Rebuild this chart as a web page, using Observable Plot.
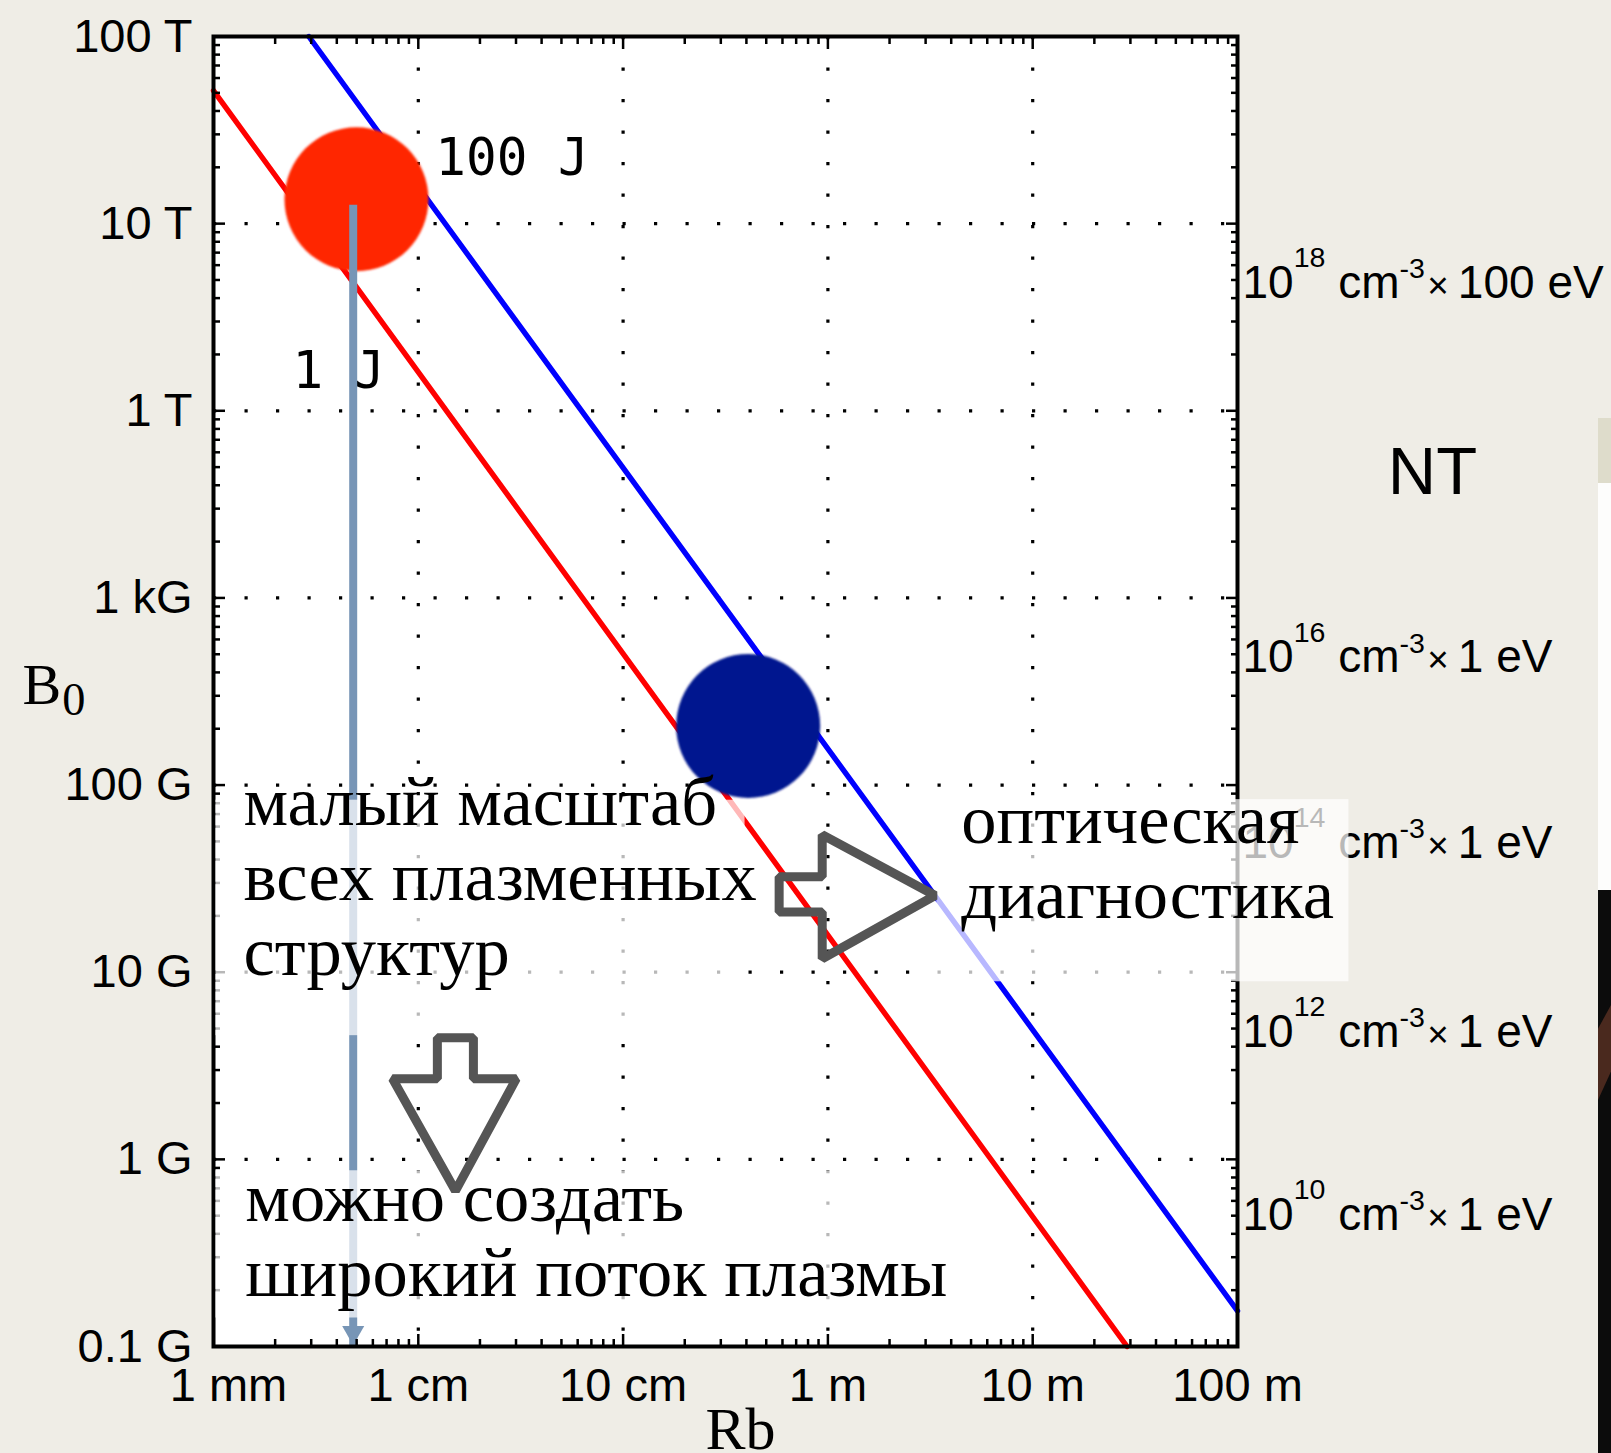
<!DOCTYPE html>
<html><head><meta charset="utf-8">
<script src="https://cdn.jsdelivr.net/npm/d3@7"></script>
<script src="https://cdn.jsdelivr.net/npm/@observablehq/plot@0.6"></script>
<style>
html,body{margin:0;padding:0;background:#efede6;width:1611px;height:1453px;overflow:hidden;position:relative}
#chart{position:absolute;left:0;top:0}
#chart svg text{white-space:pre}
.edge{position:absolute;left:1598px;width:13px}
</style></head><body>
<div id="chart"></div>
<div class="edge" style="top:418px;height:65px;background:#dedccb"></div>
<div class="edge" style="top:483px;height:407px;background:#fdfdfc"></div>
<div class="edge" style="top:890px;height:563px;background:#0c0c0c"></div>
<div class="edge" style="top:1005px;height:95px;background:#4a291e;clip-path:polygon(0 25%,100% 0,100% 70%,0 100%)"></div>
<script>
// ---- data ----
const xTicks = [1e-3, 1e-2, 1e-1, 1, 10, 100];
const xTickLabels = ["1 mm", "1 cm", "10 cm", "1 m", "10 m", "100 m"];
const yTicks = [1e-5, 1e-4, 1e-3, 1e-2, 1e-1, 1, 10, 100];
const yTickLabels = ["0.1 G", "1 G", "10 G", "100 G", "1 kG", "1 T", "10 T", "100 T"];

// iso-energy lines (R in m, B in T)
const oneJoule_R = [1e-3, 28.9];
const oneJoule_B = [51.4, 1e-5];
const hundredJoule_R = [2.92e-3, 100];
const hundredJoule_B = [100, 1.55e-5];

// highlighted spots
const spotLaser_R = [4.99e-3];
const spotLaser_B = [13.5];
const spotLab_R = [0.408];
const spotLab_B = [0.0207];

// scan arrow
const scan_R = [4.81e-3, 4.81e-3];
const scan_B = [12.6, 1e-5];

// energy labels
const energyText = ["100 J", "1 J"];
const energy_R = [0.0121, 2.43e-3];
const energy_B = [18.3, 1.32];

// plasma pressure labels (right side)
const plasmaText = ["10^{18} cm^{-3}×100 eV", "10^{16} cm^{-3}×1 eV", "10^{14} cm^{-3}×1 eV", "10^{12} cm^{-3}×1 eV", "10^{10} cm^{-3}×1 eV"];
const plasma_B = [4.0, 0.04, 0.0041, 4.0e-4, 4.2e-5];
const ntText = ["NT"];
const nt_B = [0.36];

// captions
const captionText = ["малый масштаб\nвсех плазменных\nструктур", "можно создать\nширокий поток плазмы", "оптическая\nдиагностика"];
const caption_R = [1.40e-3, 1.43e-3, 4.48];
const caption_B = [9.71e-4, 1.87e-5, 1.95e-3];

// caption backgrounds
const box_R1 = [1.028e-3, 1.028e-3, 3.4];
const box_R2 = [0.394, 5.24, 350];
const box_B1 = [8.3e-3, 8.69e-5, 8.36e-3];
const box_B2 = [4.58e-4, 1.42e-5, 8.89e-4];

// hollow arrows
const rightArrow_R = [0.578, 0.938, 0.938, 3.34, 0.938, 0.938, 0.578];
const rightArrow_B = [3.24e-3, 3.24e-3, 5.43e-3, 2.57e-3, 1.18e-3, 2.10e-3, 2.10e-3];
const downArrow_R = [0.01239, 0.01858, 0.01858, 0.0301, 0.01518, 0.00748, 0.01239];
const downArrow_B = [4.47e-4, 4.47e-4, 2.70e-4, 2.70e-4, 6.79e-5, 2.70e-4, 2.70e-4];

// ---- helpers ----
const pts = (Rs, Bs, extra = {}) => Rs.map((R, i) => ({R, B: Bs[i], ...extra}));
const minorOf = (ticks) => ticks.slice(0, -1).flatMap(t => d3.range(2, 10).map(j => j * t));
const xMinor = minorOf(xTicks);
const yMinor = minorOf(yTicks);
const lab = (ticks, labels) => d => labels[ticks.findIndex(t => Math.abs(Math.log10(t) - Math.log10(d)) < 1e-6)];

const boxes = box_R1.map((_, i) => ({R1: box_R1[i], R2: box_R2[i], B1: box_B1[i], B2: box_B2[i]}));
const arrows = [...pts(rightArrow_R, rightArrow_B, {id: "right"}), ...pts(downArrow_R, downArrow_B, {id: "down"})];

const tk = {fill: "none", stroke: "black", strokeWidth: 2.5};
const grid = {stroke: "black", strokeOpacity: 1, strokeWidth: 3.2, strokeDasharray: "3.2 28.3"};
const serif = "'Liberation Serif', 'Times New Roman', serif";

const plot = Plot.plot({
  width: 1611, height: 1453,
  marginLeft: 213, marginRight: 374, marginTop: 36, marginBottom: 107,
  x: {type: "log", domain: [1e-3, 100], label: null},
  y: {type: "log", domain: [1e-5, 100], label: null},
  style: {background: "transparent", fontFamily: "'Liberation Sans', Arial, sans-serif", fontSize: "47px", color: "black", overflow: "visible"},
  marks: [
    Plot.frame({fill: "white", stroke: "none"}),
    Plot.gridX(xTicks.slice(1, -1), grid),
    Plot.gridY(yTicks.slice(1, -1), grid),
    Plot.line(pts(oneJoule_R, oneJoule_B), {x: "R", y: "B", stroke: "#ff0000", strokeWidth: 5.4}),
    Plot.line(pts(hundredJoule_R, hundredJoule_B), {x: "R", y: "B", stroke: "#0000ff", strokeWidth: 5.4}),
    Plot.dot(pts(spotLaser_R, spotLaser_B), {x: "R", y: "B", r: 72, fill: "#ff2800"}),
    Plot.dot(pts(spotLab_R, spotLab_B), {x: "R", y: "B", r: 72, fill: "#00198f"}),
    Plot.text(energyText, {x: (d, i) => energy_R[i], y: (d, i) => energy_B[i], text: d => d, textAnchor: "start", lineAnchor: "bottom", fontFamily: "'DejaVu Sans Mono', monospace", fontSize: 51, fill: "black"}),
    Plot.link([0], {x1: () => scan_R[0], y1: () => scan_B[0], x2: () => scan_R[1], y2: () => scan_B[1], stroke: "#7795b6", strokeWidth: 8}),
    Plot.dot([0], {x: () => scan_R[1], y: () => scan_B[1], symbol: "triangle", rotate: 180, r: 8.2, fill: "#7795b6", dy: -14}),
    // ticks
    Plot.axisX(xTicks, {anchor: "bottom", tickSize: -12, ...tk}),
    Plot.axisX(xTicks, {anchor: "top", tickSize: -12, ...tk}),
    Plot.axisX(xMinor, {anchor: "bottom", tickSize: -7, ...tk}),
    Plot.axisX(xMinor, {anchor: "top", tickSize: -7, ...tk}),
    Plot.axisY(yTicks, {anchor: "left", tickSize: -12, ...tk}),
    Plot.axisY(yTicks, {anchor: "right", tickSize: -12, ...tk}),
    Plot.axisY(yMinor, {anchor: "left", tickSize: -7, ...tk}),
    Plot.axisY(yMinor, {anchor: "right", tickSize: -7, ...tk}),
    Plot.axisX(xTicks.slice(1), {anchor: "bottom", tickSize: 0, tickPadding: 21, tickFormat: lab(xTicks, xTickLabels), fill: "black"}),
    Plot.axisX(xTicks.slice(0, 1), {anchor: "bottom", tickSize: 0, tickPadding: 21, dx: 15, tickFormat: lab(xTicks, xTickLabels), fill: "black"}),
    Plot.axisY(yTicks, {anchor: "left", tickSize: 0, tickPadding: 21, tickFormat: lab(yTicks, yTickLabels), fill: "black"}),
    Plot.frame({stroke: "black", strokeWidth: 4}),
    // right side labels
    Plot.text(plasmaText, {x: () => 100, y: (d, i) => plasma_B[i], text: d => d, dx: 5, textAnchor: "start", lineAnchor: "bottom", fontSize: 46, fill: "black"}),
    Plot.text(ntText, {x: () => 100, y: (d, i) => nt_B[i], text: d => d, dx: 195, textAnchor: "middle", lineAnchor: "bottom", fontSize: 67, fill: "black"}),
    // axis titles
    Plot.text(["B_{0}"], {frameAnchor: "left", text: d => d, dx: -191, dy: 12, textAnchor: "start", lineAnchor: "bottom", fontFamily: serif, fontSize: 58, fill: "black"}),
    Plot.text(["Rb"], {frameAnchor: "bottom", text: d => d, dx: 15, dy: 102, textAnchor: "middle", lineAnchor: "bottom", fontFamily: serif, fontSize: 60, fill: "black"}),
    // caption backgrounds
    Plot.rect(boxes, {x1: "R1", x2: "R2", y1: "B1", y2: "B2", fill: "white", fillOpacity: 0.72}),
    // captions
    Plot.text(captionText, {x: (d, i) => caption_R[i], y: (d, i) => caption_B[i], text: d => d, textAnchor: "start", lineAnchor: "bottom", lineHeight: 1.064, fontFamily: serif, fontSize: 70.5, fill: "black"}),
    // hollow arrows
    Plot.line(arrows, {x: "R", y: "B", z: "id", curve: "linear-closed", stroke: "#555555", strokeWidth: 9, strokeLinejoin: "miter"})
  ]
});

document.getElementById("chart").appendChild(plot);

// soft edge for the spots
const ns = "http://www.w3.org/2000/svg";
const defs = document.createElementNS(ns, "defs");
defs.innerHTML = '<filter id="soft" x="-20%" y="-20%" width="140%" height="140%"><feGaussianBlur stdDeviation="1.3"/></filter>';
plot.prepend(defs);
plot.querySelectorAll("circle").forEach(c => { if (+c.getAttribute("r") === 72) c.setAttribute("filter", "url(#soft)"); });

// super/subscripts
plot.querySelectorAll("text").forEach(t => {
  if (t.querySelector("tspan")) return;
  const s = t.textContent;
  if (!/\^\{|_\{|×/.test(s)) return;
  const base = parseFloat(getComputedStyle(t).fontSize);
  const parts = s.split(/(\^\{[^}]*\}|_\{[^}]*\}|×)/).filter(p => p !== "");
  t.textContent = "";
  let cur = 0, prev = "", afterTimes = false;
  for (const p of parts) {
    let txt = p, size = base, shift = 0, dx = 0;
    if (p.startsWith("^{")) { txt = p.slice(2, -1); size = base * 0.62; shift = /\d$/.test(prev) ? -0.67 * base : -0.43 * base; }
    else if (p.startsWith("_{")) { txt = p.slice(2, -1); size = base * 0.8; shift = 0.2 * base; dx = 0.02 * base; }
    else if (p === "×") { size = base * 0.8; dx = 0.05 * base; }
    if (afterTimes) dx = 0.2 * base;
    afterTimes = p === "×";
    const ts = document.createElementNS(ns, "tspan");
    ts.setAttribute("font-size", size);
    if (shift !== cur) ts.setAttribute("dy", shift - cur);
    if (dx) ts.setAttribute("dx", dx);
    cur = shift;
    ts.textContent = txt;
    t.appendChild(ts);
    prev = txt;
  }
});
</script>
</body></html>
